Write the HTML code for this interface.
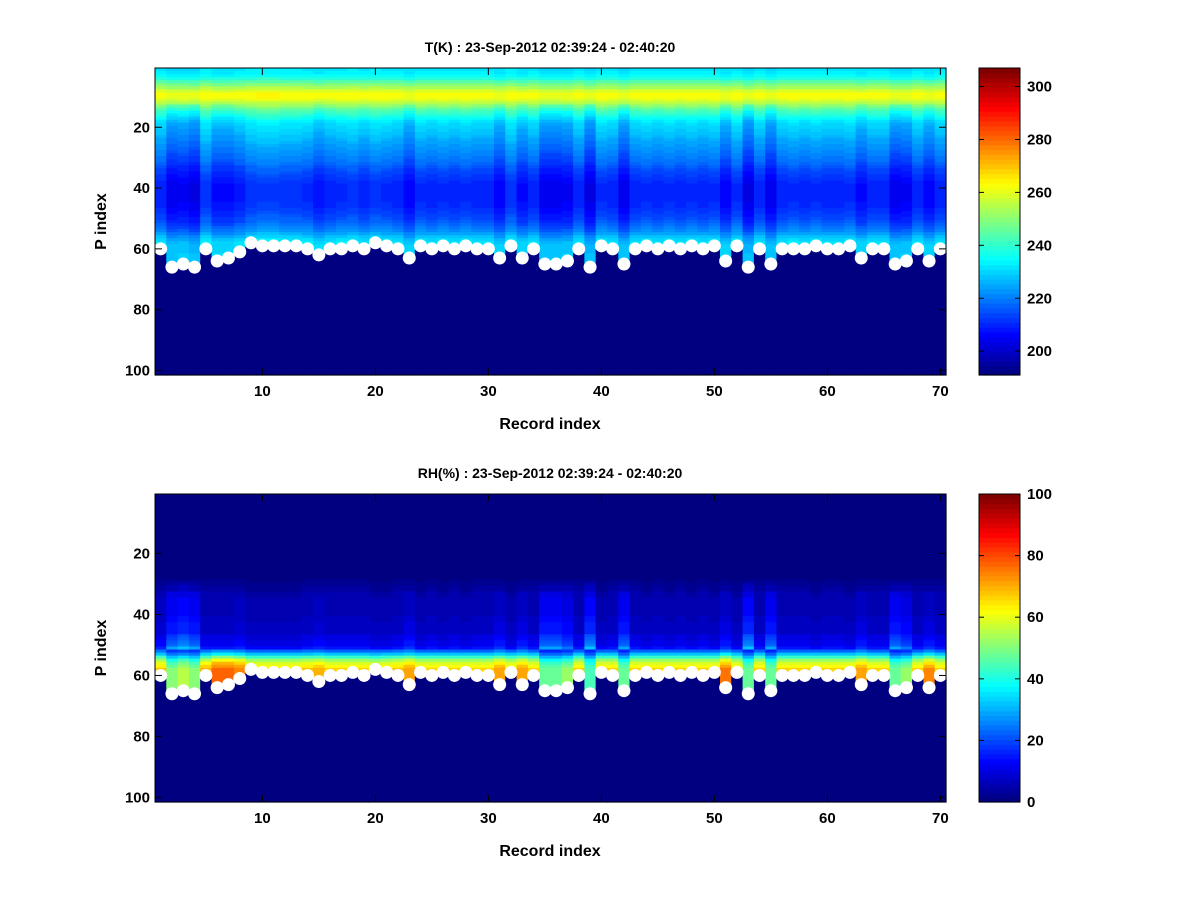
<!DOCTYPE html>
<html><head><meta charset="utf-8">
<style>
body{margin:0;background:#fff;}
svg{display:block;font-family:"Liberation Sans",sans-serif;}
.tk{font-size:15px;font-weight:bold;fill:#000;}
.ttl{font-size:14px;font-weight:bold;fill:#000;}
.lbl{font-size:16px;font-weight:bold;fill:#000;}
</style></head>
<body>
<svg id="fig" width="1200" height="900" viewBox="0 0 1200 900" xmlns="http://www.w3.org/2000/svg"></svg>
<script>
// ---- data ----
const records = Array.from({length:70},(_,i)=>i+1);
const surfaceIdx = [60,66,65,66,60,64,63,61,58,59,59,59,59,60,62,60,60,59,60,58,59,60,63,59,60,59,60,59,60,60,63,59,63,60,65,65,64,60,66,59,60,65,60,59,60,59,60,59,60,59,64,59,66,60,65,60,60,60,59,60,60,59,63,60,60,65,64,60,64,60];
const tShift = [0,-6,-5,-7,2,-3,-3,-1,2,3,3,2,2,1,-2,0,1,2,0,2,1,0,-4,1,0,1,0,1,0,0,-4,2,-3,0,-6,-6,-5,0,-7,1,0,-6,0,1,0,1,0,1,0,1,-4,1,-7,0,-6,0,1,0,1,0,0,1,-3,0,0,-6,-5,0,-4,0];
const rhPeak = [68,50,55,50,70,78,78,75,66,66,66,66,66,68,70,66,66,66,66,64,66,68,72,66,66,66,66,66,66,66,72,66,72,66,48,48,52,66,45,66,66,48,66,66,66,66,66,66,66,66,76,66,48,66,48,66,66,66,66,66,66,66,72,66,66,48,52,66,74,66];
const rhUpper = [8,14,16,14,7,7,7,8,6,6,6,6,6,7,8,7,7,7,7,6,6,7,9,6,7,6,7,6,7,7,9,6,9,7,14,14,12,7,16,6,7,14,7,6,7,6,7,6,7,6,9,6,16,7,14,7,7,7,6,7,7,6,9,7,7,14,12,7,9,7];
const tBase = [232,233,235,239,244,249,254,259,263,263,260,255,250,245,241,238,235,232,230,229,228,227,226,225,224,223,222,221,220,219,218,217,215,214,213,212,211,210,209,209,209,209,209,209,210,210,211,212,213,214,215,217,219,221,224,227,230,232,233,233,233,234,234,234,234,234,234,234,234,234,234,234,234,234,234,234,234,234,234,234,234,234,234,234,234,234,234,234,234,234,234,234,234,234,234,234,234,234,234,234,234];
const rhBase = [0,0,0,0,0,0,0,0,0,0,0,0,0,0,0,0,0,0,0,0,0,0,0,0,0,0,0,0,1,2,3,3,5,5,6,6,6,6,6,6,7,7,8,8,8,8,10,11,12,13,16,24,33,45,56,62,66,70,70,70,70,70,70,70,70,70,70,70,70,70,70,70,70,70,70,70,70,70,70,70,70,70,70,70,70,70,70,70,70,70,70,70,70,70,70,70,70,70,70,70,70];
const xTicks = [10,20,30,40,50,60,70];
const yTicks = [20,40,60,80,100];
const tCbTicks = [200,220,240,260,280,300];
const rhCbTicks = [0,20,40,60,80,100];

const NS="http://www.w3.org/2000/svg";
const svg=document.getElementById('fig');
function el(tag,attrs,parent){const e=document.createElementNS(NS,tag);for(const k in attrs)e.setAttribute(k,attrs[k]);(parent||svg).appendChild(e);return e;}
function clamp(v){return Math.max(0,Math.min(1,v));}
function jet(x){x=clamp(x);x=Math.round(x*63)/63;
 const r=clamp(Math.min(4*x-1.5,-4*x+4.5)),g=clamp(Math.min(4*x-0.5,-4*x+3.5)),b=clamp(Math.min(4*x+0.5,-4*x+2.5));
 return `rgb(${Math.round(r*255)},${Math.round(g*255)},${Math.round(b*255)})`;}

const L=155,R=946,NL=101;
function xs(v){return L+(v-0.5)*(R-L)/70;}

function panel(top,bot,vmin,vmax,valFn,title,cbTicks,prefix){
 const ys=v=>top+(v-0.5)*(bot-top)/NL;
 const g=el('g',{});
 
 
 for(let r=0;r<records.length;r++){
  for(let l=1;l<=NL;l++){
   const v = l<=surfaceIdx[r]? valFn(l,r): vmin;
   const c=el('rect',{x:xs(records[r]-0.5),y:ys(l-0.5),width:(R-L)/70+0.6,height:(bot-top)/NL+0.6,fill:jet((v-vmin)/(vmax-vmin))},g);
   
   
  }
 }
 for(let r=0;r<records.length;r++){
  const d=el('circle',{cx:xs(records[r]),cy:ys(surfaceIdx[r]),r:6.5,fill:'#fff'});
  
  
 }
 const ax=el('rect',{x:L,y:top,width:R-L,height:bot-top,fill:'none',stroke:'#000','stroke-width':1});
 
 
 xTicks.forEach(t=>{const x=xs(t);
  el('line',{x1:x,y1:bot,x2:x,y2:bot-7,stroke:'#000'});el('line',{x1:x,y1:top,x2:x,y2:top+7,stroke:'#000'});
  const tx=el('text',{x:x,y:bot+21,'text-anchor':'middle',class:'tk'});tx.textContent=t;
  
  });
 yTicks.forEach(t=>{const y=ys(t);
  el('line',{x1:L,y1:y,x2:L+7,y2:y,stroke:'#000'});el('line',{x1:R,y1:y,x2:R-7,y2:y,stroke:'#000'});
  const tx=el('text',{x:L-5,y:y+5,'text-anchor':'end',class:'tk'});tx.textContent=t;
  
  });
 const tt=el('text',{x:550,y:top-16,'text-anchor':'middle',class:'ttl'});tt.textContent=title;
 
 
 const xl=el('text',{x:550,y:bot+54,'text-anchor':'middle',class:'lbl'});xl.textContent='Record index';
 
 
 const yl=el('text',{x:0,y:0,'text-anchor':'middle',class:'lbl',transform:`translate(106,${(top+bot)/2}) rotate(-90)`});yl.textContent='P index';
 
 
 const cL=979,cR=1020,ch=bot-top,N=64;
 for(let i=0;i<N;i++){
  const s=el('rect',{x:cL,y:bot-(i+1)*ch/N,width:cR-cL,height:ch/N+0.6,fill:jet(i/63)});
  
  
 }
 const cf=el('rect',{x:cL,y:top,width:cR-cL,height:ch,fill:'none',stroke:'#000'});
 
 
 cbTicks.forEach(t=>{const y=bot-(t-vmin)/(vmax-vmin)*ch;
  el('line',{x1:cL,y1:y,x2:cL+5,y2:y,stroke:'#000'});el('line',{x1:cR,y1:y,x2:cR-5,y2:y,stroke:'#000'});
  const tx=el('text',{x:cR+7,y:y+5,class:'tk'});tx.textContent=t;
  
  });
}
panel(68,375,191,307,(l,r)=>tBase[l-1]+tShift[r]*(l>12?1:0.3),'T(K) : 23-Sep-2012 02:39:24 - 02:40:20',tCbTicks,'temperature');
panel(494,802,0,100,(l,r)=>rhBase[l-1]<20? rhBase[l-1]*rhUpper[r]/8 : rhBase[l-1]*rhPeak[r]/70,'RH(%) : 23-Sep-2012 02:39:24 - 02:40:20',rhCbTicks,'humidity');
</script>
</body></html>
